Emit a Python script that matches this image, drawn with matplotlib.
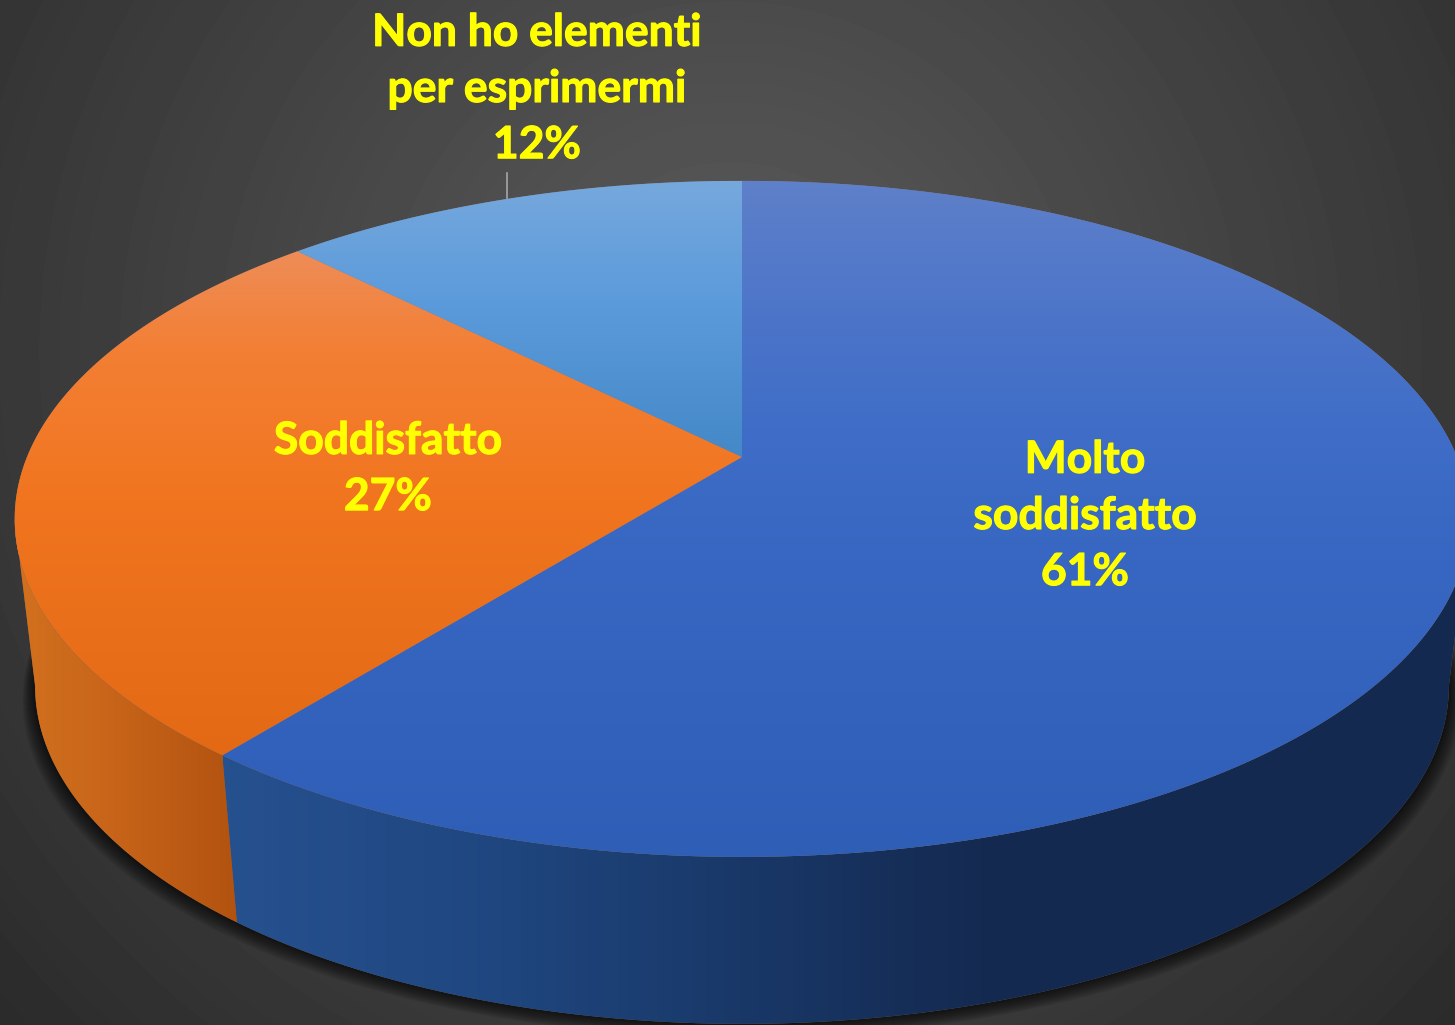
import matplotlib
matplotlib.use("Agg")
import matplotlib.pyplot as plt
import matplotlib.patheffects as pe
import numpy as np
from matplotlib.colors import LinearSegmentedColormap
from matplotlib.patches import Polygon

# Values; the labels show the rounded percentages
categories = ["Molto\nsoddisfatto", "Soddisfatto", "Non ho elementi\nper esprimermi"]
values = [60.7, 26.9, 12.4]
percent_labels = ["61%", "27%", "12%"]

# Geometry of the perspective disc, in pixels
W, H = 1455, 1025
CX, CY = 742, 457
A, B, K = 715, 326.7, 0.183
LOWER_CX_SCALE = 0.972
LOWER_CY = 624

top_colors = [
    [(181, "#5f80ca"), (300, "#4e76c9"), (430, "#3f6dc7"), (560, "#3767c2"), (860, "#2e5eb6")],
    [(181, "#ee8f5c"), (255, "#ee8c56"), (350, "#f37f34"), (500, "#f1751f"), (760, "#e36915")],
    [(181, "#76a8dd"), (300, "#5c9bdb"), (460, "#4488c7")],
]
side_colors = [
    [(223, "#26518f"), (500, "#1f467f"), (740, "#193868"), (1000, "#14294f"), (1470, "#15294f")],
    [(15, "#d2711f"), (100, "#c9661a"), (240, "#b25210")],
]


def rim(theta, lower=False):
    # theta in degrees clockwise from twelve o'clock
    t = np.radians(theta)
    u, v = np.sin(t), np.cos(t)
    d = 1 + K * v
    x = A * u / d
    y = -B * v / d
    if lower:
        return CX + LOWER_CX_SCALE * x, LOWER_CY + y
    return CX + x, CY + y


def make_cmap(stops):
    lo, hi = stops[0][0], stops[-1][0]
    return LinearSegmentedColormap.from_list(
        "grad", [((p - lo) / (hi - lo), c) for p, c in stops]), lo, hi


def gradient_fill(ax, xy, stops, horizontal, zorder):
    cmap, lo, hi = make_cmap(stops)
    ramp = np.linspace(0, 1, 256)
    if horizontal:
        img = ramp.reshape(1, -1)
        extent = (lo, hi, H, 0)
    else:
        img = ramp.reshape(-1, 1)
        extent = (0, W, hi, lo)
    patch = Polygon(xy, closed=True, facecolor="none", edgecolor="none", zorder=zorder)
    ax.add_patch(patch)
    im = ax.imshow(img, cmap=cmap, extent=extent, aspect="auto", zorder=zorder,
                   origin="upper", interpolation="bilinear")
    im.set_clip_path(patch)


def side_polygon(t0, t1):
    th = np.linspace(t0, t1, 200)
    xt, yt = rim(th)
    xb, yb = rim(th[::-1], lower=True)
    return np.column_stack([np.r_[xt, xb], np.r_[yt, yb]])


fig = plt.figure(figsize=(W / 100, H / 100), dpi=100)
ax = fig.add_axes([0, 0, 1, 1])

# Radial grey background
yy, xx = np.mgrid[0:H, 0:W]
dist = np.hypot(xx - 730, yy - 350) / 1050
bg = 0x5c - np.clip(dist, 0, 1) * (0x5c - 0x28)
ax.imshow(bg, cmap="gray", vmin=0, vmax=255, extent=(0, W, H, 0), aspect="auto", zorder=0)

# Soft shadow under the disc
th_all = np.linspace(0, 360, 400)
xs, ys = rim(th_all, lower=True)
for dy in range(14, 0, -1):
    grow = 1 + dy / 800
    ax.add_patch(Polygon(np.column_stack([CX + (xs - CX) * grow, ys + dy]), closed=True,
                         facecolor="black", edgecolor="none", alpha=0.06, zorder=1))

edges = np.r_[0, np.cumsum(values)] / np.sum(values) * 360
silhouette = np.degrees(np.arccos(-K))

# Flat underlay so the seams between slices do not show the shadow through
ax.add_patch(Polygon(side_polygon(silhouette, 360 - silhouette), closed=True,
                     facecolor="#7a6248", edgecolor="none", zorder=1.5))
tx, ty = rim(th_all)
ax.add_patch(Polygon(np.column_stack([tx, ty]), closed=True, facecolor="#8a7a80",
                     edgecolor="none", zorder=2.8))

# Side walls, only the two front slices show one
gradient_fill(ax, side_polygon(silhouette, edges[1]), side_colors[0], True, 2)
gradient_fill(ax, side_polygon(edges[1], 360 - silhouette), side_colors[1], True, 2)

# Top faces
for i in range(len(values)):
    th = np.linspace(edges[i], edges[i + 1], 300)
    x, y = rim(th)
    xy = np.column_stack([np.r_[CX, x], np.r_[CY, y]])
    gradient_fill(ax, xy, top_colors[i], False, 3)

# Leader line of the small slice
mid = (edges[2] + edges[3]) / 2
lx, ly = rim(mid)
ax.plot([lx - 3, lx - 3], [173, ly], color="#a6a6a6", lw=1.2, zorder=2.5)

label_pos = [(1085, 516), (388, 469), (537, 89)]
for cat, pct, (px, py) in zip(categories, percent_labels, label_pos):
    txt = ax.text(px, py, cat + "\n" + pct, color="#ffff00", fontsize=32, fontweight="bold",
                  family="Lato", ha="center", va="center", linespacing=1.49, zorder=5)
    txt.set_path_effects([pe.withStroke(linewidth=0.8, foreground="#ffff00")])

ax.set_xlim(0, W)
ax.set_ylim(H, 0)
ax.axis("off")
fig.savefig("out.png", dpi=100)
